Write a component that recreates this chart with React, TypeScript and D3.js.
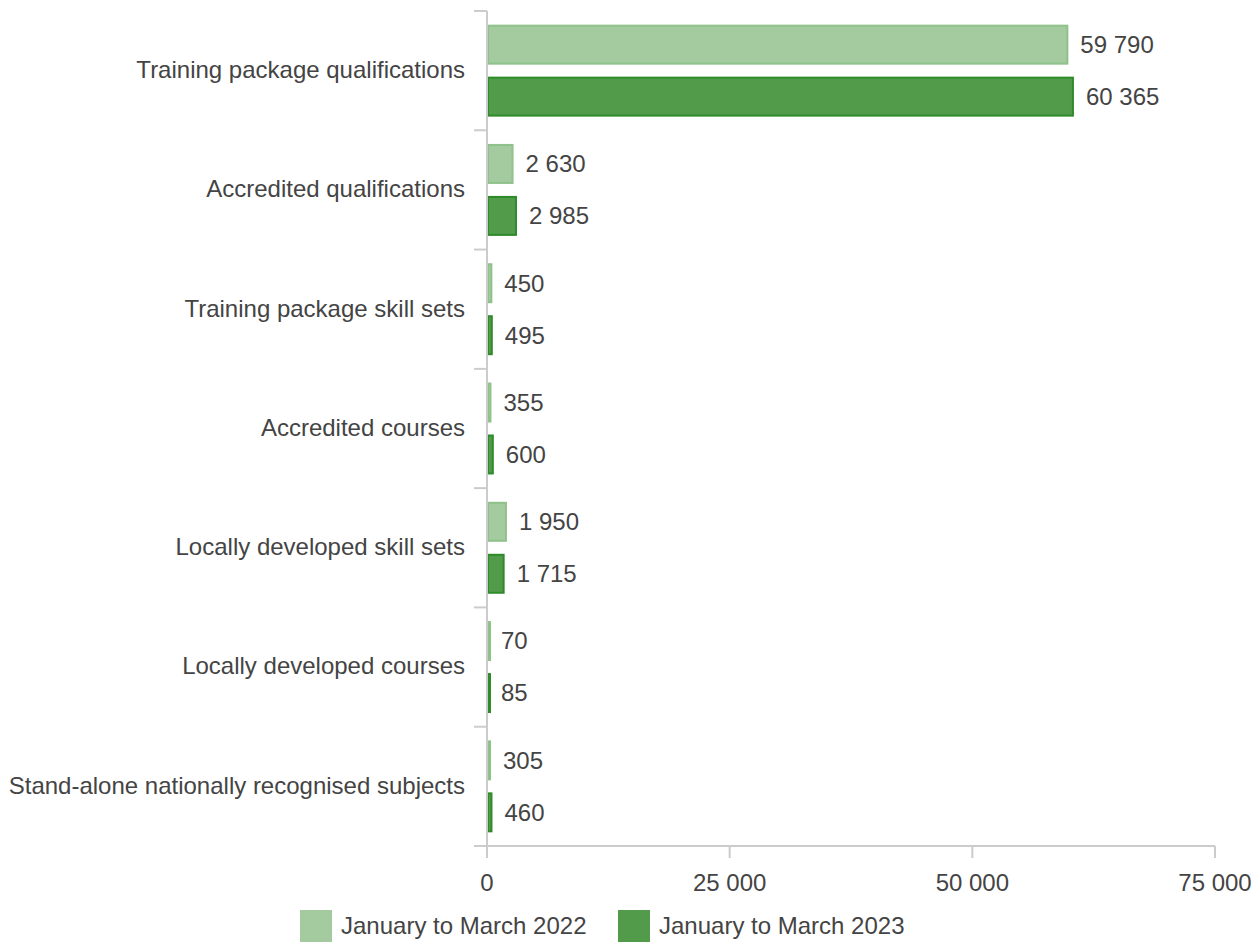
import { useEffect, useRef } from 'react';
import * as d3 from 'd3';

const categories = [
  'Training package qualifications',
  'Accredited qualifications',
  'Training package skill sets',
  'Accredited courses',
  'Locally developed skill sets',
  'Locally developed courses',
  'Stand-alone nationally recognised subjects',
];
const seriesNames = ['January to March 2022', 'January to March 2023'];
const values2022 = [59790, 2630, 450, 355, 1950, 70, 305];
const values2023 = [60365, 2985, 495, 600, 1715, 85, 460];
const xTicks = [0, 25000, 50000, 75000];

const fills = ['#a3cb9f', '#519b4a'];
const strokes = ['#8fc18a', '#2f8a2a'];

const locale = d3.formatLocale({ decimal: '.', thousands: ' ', grouping: [3], currency: ['', ''] });
const fmt = locale.format(',d');

export default function App() {
  const svgRef = useRef<SVGSVGElement>(null);

  useEffect(() => {
    const W = 1256, H = 942;
    const svg = d3.select(svgRef.current).attr('width', W).attr('height', H);
    svg.selectAll('*').remove();
    const font = 'Liberation Sans, Arial, sans-serif';
    const textCol = '#444444';
    const axisCol = '#cccccc';
    const fs = 24;

    const x = d3.scaleLinear().domain([0, 75000]).range([487, 1215]);
    const y = d3.scaleBand<string>().domain(categories).range([11, 846]);
    const inner = d3.scaleBand<number>().domain([0, 1]).range([0, y.bandwidth()])
      .paddingInner(0.231).paddingOuter(0.263);

    const series = [values2022, values2023];

    // category ticks
    const bounds = categories.map(c => y(c)!).concat([846]);
    svg.append('g').selectAll('line').data(bounds).enter().append('line')
      .attr('x1', 474).attr('x2', x(0)).attr('y1', d => d).attr('y2', d => d)
      .attr('stroke', axisCol).attr('stroke-width', 2);

    // x axis
    svg.append('line').attr('x1', x(0)).attr('x2', x(75000)).attr('y1', 846).attr('y2', 846)
      .attr('stroke', axisCol).attr('stroke-width', 2);
    svg.append('g').selectAll('line').data(xTicks).enter().append('line')
      .attr('x1', d => x(d)).attr('x2', d => x(d)).attr('y1', 846).attr('y2', 858)
      .attr('stroke', axisCol).attr('stroke-width', 2);
    svg.append('g').selectAll('text').data(xTicks).enter().append('text')
      .attr('x', d => x(d)).attr('y', 891).attr('text-anchor', 'middle')
      .attr('font-family', font).attr('font-size', fs).attr('fill', textCol)
      .text(d => fmt(d));

    // bars
    series.forEach((vals, si) => {
      const g = svg.append('g');
      g.selectAll('rect').data(vals).enter().append('rect')
        .attr('x', x(0) + 1)
        .attr('y', (d, i) => y(categories[i])! + inner(si)! + 1)
        .attr('width', d => Math.max(x(d) - x(0) - 1, 2))
        .attr('height', inner.bandwidth() - 2)
        .attr('fill', fills[si]).attr('stroke', strokes[si]).attr('stroke-width', 2);
      g.selectAll('text').data(vals).enter().append('text')
        .attr('x', d => Math.max(x(d), x(0) + 1) + 13)
        .attr('y', (d, i) => y(categories[i])! + inner(si)! + inner.bandwidth() / 2)
        .attr('dy', '0.35em')
        .attr('font-family', font).attr('font-size', fs).attr('fill', textCol)
        .text(d => fmt(d));
    });

    // y axis line
    svg.append('line').attr('x1', x(0)).attr('x2', x(0)).attr('y1', 11).attr('y2', 846)
      .attr('stroke', axisCol).attr('stroke-width', 2);

    // category labels
    svg.append('g').selectAll('text').data(categories).enter().append('text')
      .attr('x', 465).attr('y', d => y(d)! + y.bandwidth() / 2 - 1).attr('dy', '0.35em')
      .attr('text-anchor', 'end')
      .attr('font-family', font).attr('font-size', fs).attr('fill', textCol)
      .text(d => d);

    // legend
    const legendX = [300, 618];
    const lg = svg.append('g');
    seriesNames.forEach((name, i) => {
      lg.append('rect').attr('x', legendX[i]).attr('y', 910).attr('width', 32).attr('height', 32)
        .attr('fill', fills[i]);
      lg.append('text').attr('x', legendX[i] + 41).attr('y', 926).attr('dy', '0.35em')
        .attr('font-family', font).attr('font-size', fs).attr('fill', textCol)
        .text(name);
    });
  }, []);

  return (
    <div style={{ position: 'absolute', left: 0, top: 0 }}>
      <svg ref={svgRef} style={{ display: 'block' }} />
    </div>
  );
}
